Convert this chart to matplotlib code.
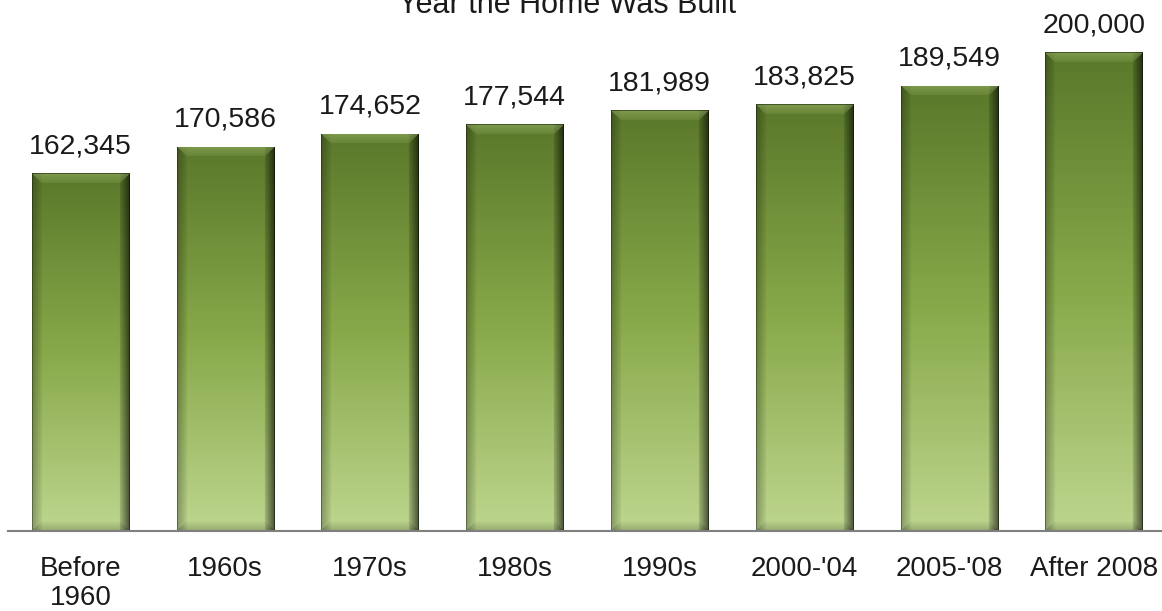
import numpy as np
import matplotlib
matplotlib.use("Agg")
import matplotlib.pyplot as plt

# data
categories = ["Before\n1960", "1960s", "1970s", "1980s", "1990s", "2000-'04", "2005-'08", "After 2008"]
values = [162345, 170586, 174652, 177544, 181989, 183825, 189549, 200000]
title = "Year the Home Was Built"

plt.rcParams['font.family'] = ['Liberation Sans', 'DejaVu Sans']

fig = plt.figure(figsize=(11.62, 6.11), dpi=100)
ax = fig.add_axes([8 / 1162, 80 / 611, 1 - 8 / 1162, 531 / 611])
ax.set_xlim(-0.5, 7.47)
ax.set_ylim(51000, 216250)

x = np.arange(len(values))
bars = ax.bar(x, values, width=0.67, color='#86a548', edgecolor='none', zorder=2)

# colour stops of the bar gradient (top -> bottom)
top_c = np.array([0x5a, 0x78, 0x2a]) / 255
mid_c = np.array([0x88, 0xa9, 0x4a]) / 255
bot_c = np.array([0xbd, 0xd6, 0x8e]) / 255


def bar_image(w, h, bev=10):
    t = np.linspace(0, 1, h)
    rows = np.empty((h, 3))
    for i in range(3):
        rows[:, i] = np.interp(t, [0, 0.5, 1], [top_c[i], mid_c[i], bot_c[i]])
    img = np.repeat(rows[:, None, :], w, axis=1)
    shade = np.ones((h, w))
    cols = np.arange(w)
    # left bevel
    left = cols < bev
    shade[:, left] *= np.linspace(0.72, 0.95, left.sum())
    # right bevel, darker
    right = cols >= w - bev
    shade[:, right] *= np.linspace(0.85, 0.40, right.sum())
    img = img * shade[..., None]
    # top bevel lighter
    tb = min(bev, h // 4)
    for r in range(tb):
        inside = (cols >= r) & (cols < w - r)
        k = 0.35 * (1 - r / tb) + 0.15
        img[r, inside] = img[r, inside] * (1 - k) + np.array([0.64, 0.74, 0.44]) * k
    img[0, :] *= 0.55
    # bottom bevel slightly darker
    for r in range(tb):
        inside = (cols >= r) & (cols < w - r)
        img[h - 1 - r, inside] *= 0.80 + 0.02 * r
    img[-1, :] *= 0.6
    img[:, 0] *= 0.7
    img[:, -1] *= 0.6
    return np.clip(img, 0, 1)


fig.canvas.draw()
ymin = ax.get_ylim()[0]
for b in bars:
    x0 = b.get_x()
    x1 = x0 + b.get_width()
    h = b.get_height()
    p0 = ax.transData.transform((x0, ymin))
    p1 = ax.transData.transform((x1, h))
    wpx = int(round(p1[0] - p0[0]))
    hpx = int(round(p1[1] - p0[1]))
    im = ax.imshow(bar_image(wpx, hpx), extent=(x0, x1, ymin, h), aspect='auto',
                   interpolation='bilinear', zorder=3)
    im.set_clip_path(b)
    ax.annotate(f"{h:,.0f}", (b.get_x() + b.get_width() / 2, h), xytext=(0, 14.4),
                textcoords='offset points', ha='center', va='baseline',
                fontsize=20.5, color='#1a1a1a')

ax.set_xlim(-0.5, 7.47)
ax.set_ylim(51000, 216250)

for s in ['top', 'right', 'left']:
    ax.spines[s].set_visible(False)
ax.spines['bottom'].set_color('#7f7f7f')
ax.spines['bottom'].set_linewidth(1.5)
ax.spines['bottom'].set_zorder(4)
ax.set_yticks([])
ax.set_xticks(x)
ax.set_xticklabels(categories, fontsize=20, color='#1a1a1a', linespacing=1.15)
ax.tick_params(axis='x', length=0, pad=18)

# title is partly cut off at the top, as in the source image
fig.text(567 / 1162, (611 - 13) / 611, title, ha='center', va='baseline',
         fontsize=22, color='#1a1a1a')

fig.savefig("out.png", dpi=100)
